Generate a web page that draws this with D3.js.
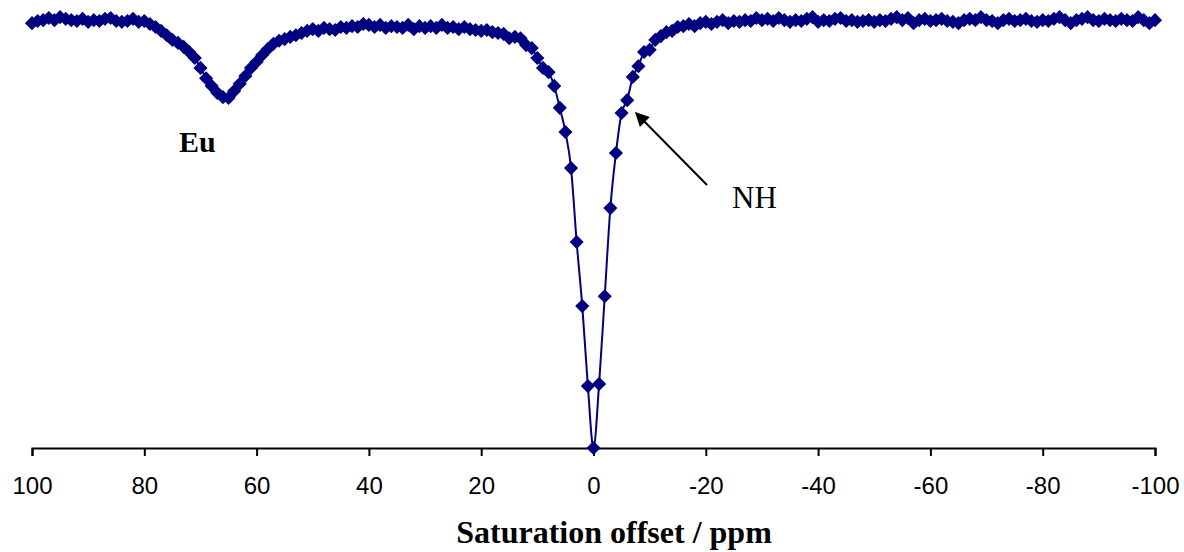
<!DOCTYPE html>
<html>
<head>
<meta charset="utf-8">
<script src="https://cdn.jsdelivr.net/npm/d3@7"></script>
<style>
  body { margin: 0; background: #ffffff; }
  svg { display: block; }
</style>
</head>
<body>
<div id="chart"></div>
<script>
"use strict";

const width = 1184;
const height = 552;

// saturation offsets (ppm), 1 ppm steps
const offsets = [
  100, 99, 98, 97, 96, 95, 94, 93, 92, 91,
  90, 89, 88, 87, 86, 85, 84, 83, 82, 81,
  80, 79, 78, 77, 76, 75, 74, 73, 72, 71,
  70, 69, 68, 67, 66, 65, 64, 63, 62, 61,
  60, 59, 58, 57, 56, 55, 54, 53, 52, 51,
  50, 49, 48, 47, 46, 45, 44, 43, 42, 41,
  40, 39, 38, 37, 36, 35, 34, 33, 32, 31,
  30, 29, 28, 27, 26, 25, 24, 23, 22, 21,
  20, 19, 18, 17, 16, 15, 14, 13, 12, 11,
  10, 9, 8, 7, 6, 5, 4, 3, 2, 1,
  0,
  -1, -2, -3, -4, -5, -6, -7, -8, -9, -10,
  -11, -12, -13, -14, -15, -16, -17, -18, -19, -20,
  -21, -22, -23, -24, -25, -26, -27, -28, -29, -30,
  -31, -32, -33, -34, -35, -36, -37, -38, -39, -40,
  -41, -42, -43, -44, -45, -46, -47, -48, -49, -50,
  -51, -52, -53, -54, -55, -56, -57, -58, -59, -60,
  -61, -62, -63, -64, -65, -66, -67, -68, -69, -70,
  -71, -72, -73, -74, -75, -76, -77, -78, -79, -80,
  -81, -82, -83, -84, -85, -86, -87, -88, -89, -90,
  -91, -92, -93, -94, -95, -96, -97, -98, -99, -100
];

// normalised water signal Ms/M0
const signal = [
  0.988, 0.993, 0.995, 1.000, 0.995, 1.002, 0.998, 0.995, 0.993, 0.998,
  0.991, 0.995, 0.993, 0.998, 1.000, 0.993, 0.991, 0.993, 0.998, 0.991,
  0.993, 0.986, 0.979, 0.970, 0.960, 0.949, 0.942, 0.933, 0.921, 0.907,
  0.884, 0.860, 0.842, 0.826, 0.816, 0.814, 0.830, 0.847, 0.865, 0.884,
  0.898, 0.914, 0.928, 0.940, 0.947, 0.951, 0.956, 0.960, 0.965, 0.970,
  0.974, 0.970, 0.977, 0.974, 0.972, 0.979, 0.977, 0.981, 0.979, 0.986,
  0.984, 0.979, 0.984, 0.977, 0.981, 0.979, 0.977, 0.984, 0.974, 0.981,
  0.977, 0.981, 0.977, 0.984, 0.977, 0.979, 0.974, 0.979, 0.974, 0.972,
  0.970, 0.972, 0.967, 0.965, 0.963, 0.953, 0.956, 0.953, 0.937, 0.930,
  0.907, 0.884, 0.874, 0.842, 0.791, 0.735, 0.651, 0.479, 0.330, 0.144,
  0.000,
  0.149, 0.353, 0.558, 0.686, 0.779, 0.809, 0.863, 0.888, 0.921, 0.926,
  0.949, 0.958, 0.967, 0.970, 0.979, 0.981, 0.986, 0.981, 0.988, 0.991,
  0.986, 0.991, 0.995, 0.988, 0.993, 0.991, 0.995, 0.993, 1.000, 0.995,
  0.998, 0.993, 1.000, 0.995, 0.991, 0.995, 0.993, 0.998, 1.002, 0.991,
  0.995, 0.993, 0.998, 1.000, 0.993, 0.995, 0.991, 0.993, 0.995, 0.991,
  0.995, 0.993, 0.998, 1.002, 0.995, 1.000, 0.988, 0.995, 0.998, 0.993,
  0.995, 0.998, 0.993, 0.991, 0.988, 0.995, 0.998, 0.995, 1.002, 0.995,
  0.993, 0.988, 0.995, 0.998, 0.993, 0.995, 0.998, 0.993, 0.991, 0.995,
  0.993, 0.998, 1.002, 0.995, 0.988, 0.995, 0.998, 1.002, 0.995, 0.993,
  0.998, 0.995, 0.993, 0.998, 0.995, 0.993, 1.002, 0.995, 0.988, 0.995
];

const tickValues = [100, 80, 60, 40, 20, 0, -20, -40, -60, -80, -100];

const data = offsets.map(function(o, i) {
  return { offset: o, value: signal[i] };
});

const x = d3.scaleLinear()
  .domain([100, -100])
  .range([32, 1155]);

const y = d3.scaleLinear()
  .domain([0, 1])
  .range([448, 18]);

const svg = d3.select("#chart").append("svg")
  .attr("width", width)
  .attr("height", height);

const defs = svg.append("defs");

defs.append("marker")
  .attr("id", "arrowhead")
  .attr("viewBox", "0 0 10 10")
  .attr("refX", 9)
  .attr("refY", 5)
  .attr("markerUnits", "userSpaceOnUse")
  .attr("markerWidth", 18)
  .attr("markerHeight", 14)
  .attr("orient", "auto")
  .append("path")
  .attr("d", "M 0 0 L 10 5 L 0 10 z")
  .attr("fill", "#000000");

// x axis only, no y axis in the original
// plain hyphen for negatives, like the original
const xAxis = d3.axisBottom(x)
  .tickValues(tickValues)
  .tickSize(8)
  .tickPadding(21)
  .tickFormat(function(d) { return String(d); });

const axisGroup = svg.append("g")
  .attr("transform", "translate(0," + y(0) + ")")
  .call(xAxis);

axisGroup.select(".domain")
  .attr("stroke", "#000000")
  .attr("stroke-width", 2);

axisGroup.selectAll(".tick line")
  .attr("stroke", "#000000")
  .attr("stroke-width", 2);

axisGroup.selectAll(".tick text")
  .attr("fill", "#000000")
  .style("font-family", "Arial, 'Liberation Sans', sans-serif")
  .style("font-size", "24px");

svg.append("text")
  .attr("x", 614)
  .attr("y", 543)
  .attr("text-anchor", "middle")
  .style("font-family", "'Times New Roman', 'Liberation Serif', serif")
  .style("font-weight", "bold")
  .style("font-size", "32px")
  .text("Saturation offset / ppm");

const line = d3.line()
  .x(function(d) { return x(d.offset); })
  .y(function(d) { return y(d.value); })
  .curve(d3.curveCardinal.tension(0));

svg.append("path")
  .datum(data)
  .attr("fill", "none")
  .attr("stroke", "#000080")
  .attr("stroke-width", 2)
  .attr("d", line);

const diamond = d3.symbol().type(d3.symbolSquare).size(100);

svg.append("g")
  .selectAll("path")
  .data(data)
  .join("path")
  .attr("d", diamond)
  .attr("transform", function(d) {
    return "translate(" + x(d.offset) + "," + y(d.value) + ") rotate(45)";
  })
  .attr("fill", "#000080");

// annotations
svg.append("text")
  .attr("x", 179)
  .attr("y", 152)
  .style("font-family", "'Times New Roman', 'Liberation Serif', serif")
  .style("font-weight", "bold")
  .style("font-size", "30px")
  .text("Eu");

svg.append("text")
  .attr("x", 732)
  .attr("y", 208)
  .style("font-family", "'Times New Roman', 'Liberation Serif', serif")
  .style("font-size", "31px")
  .text("NH");

svg.append("line")
  .attr("x1", 707)
  .attr("y1", 185)
  .attr("x2", 636)
  .attr("y2", 113)
  .attr("stroke", "#000000")
  .attr("stroke-width", 2)
  .attr("marker-end", "url(#arrowhead)");
</script>
</body>
</html>
